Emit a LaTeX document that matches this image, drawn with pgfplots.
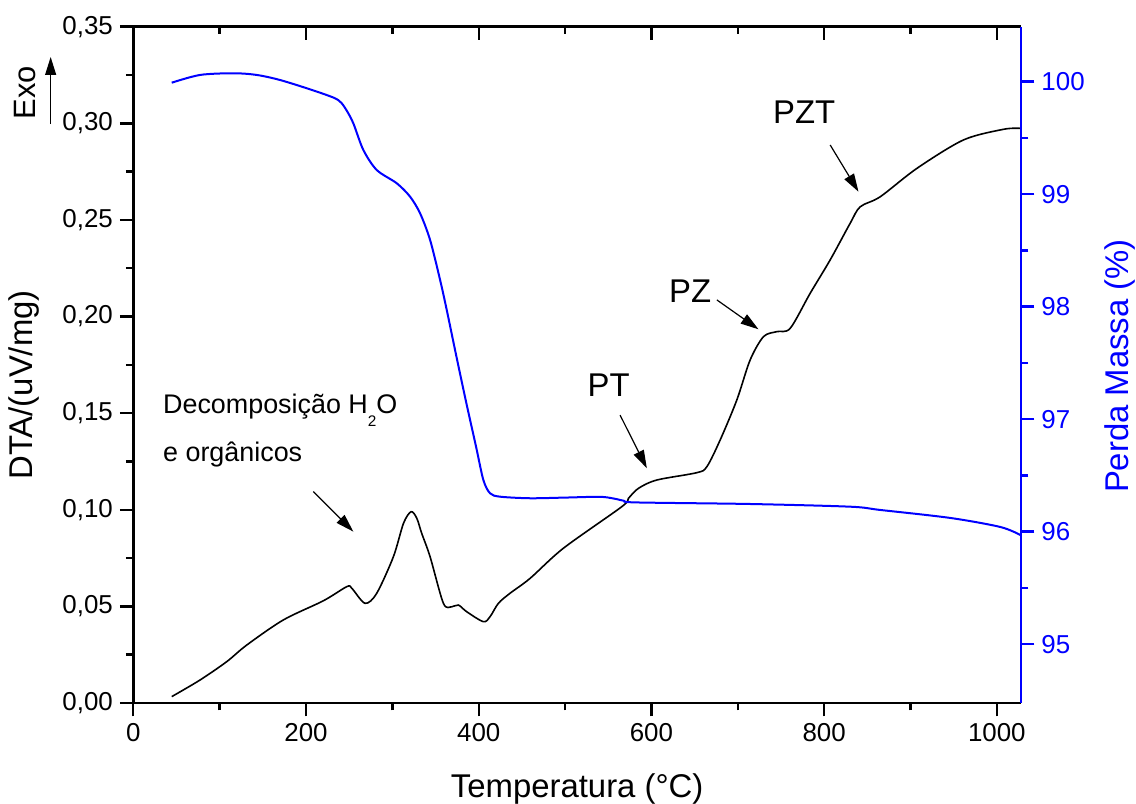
\documentclass[border=0pt]{standalone}
\usepackage{fontspec}
\setmainfont{Liberation Sans}
\usepackage{pgfplots}
\pgfplotsset{compat=1.18}
\usetikzlibrary{arrows.meta}
\definecolor{TGblue}{RGB}{0,0,255}

\pgfplotsset{
  common/.style={
    scale only axis, width=443.85bp, height=338.15bp,
    xmin=0, xmax=1028,
    /pgf/number format/assume math mode=true,
    /pgf/number format/1000 sep={},
    tick label style={font=\fontsize{13}{13}\selectfont},
    label style={font=\fontsize{16.5}{16.5}\selectfont},
    axis line style={line width=1.4bp,-},
    major tick length=6.7bp, minor tick length=3.7bp,
    every tick/.style={line width=1.2bp},
    clip=false,
  }
}

\begin{document}
\begin{tikzpicture}[>={Triangle[length=9bp,width=5.5bp]}]
\useasboundingbox (-66.65bp,-50.5bp) rectangle (501.35bp,351.5bp);

% top axis: inward ticks only
\begin{axis}[common,
  axis x line*=top, axis y line=none,
  ymin=0, ymax=0.35,
  xtick={0,200,...,1000}, minor x tick num=1, xticklabels={},
  tick align=inside]
\end{axis}

% DTA (left axis)
\begin{axis}[common,
  axis x line*=bottom, axis y line*=left,
  ymin=0, ymax=0.35,
  xtick={0,200,...,1000}, minor x tick num=1,
  ytick={0,0.05,...,0.351}, minor y tick num=1,
  scaled y ticks=false,
  yticklabel style={/pgf/number format/.cd, fixed, fixed zerofill, precision=2, use comma},
  tick align=outside,
  xlabel={Temperatura (°C)},
  xlabel style={at={(axis description cs:0.5,-0.139)}, anchor=base},
  ylabel={DTA/(uV/mg)},
  ylabel style={at={(axis description cs:-0.113,0.4702)}, anchor=base},
  ]
\addplot[black, line width=0.8bp, smooth] coordinates {
(44.5,0.0033)(77.3,0.0119)(108.2,0.0214)(131.4,0.0300)(173.8,0.0430)
(220.1,0.0529)(247.2,0.0602)(253.0,0.0594)(268.4,0.0516)(281.9,0.0568)
(301.2,0.0757)(312.9,0.0930)(321.7,0.0990)(328.3,0.0956)(334.0,0.0878)(343.7,0.0757)(359.1,0.0516)
(368.8,0.0498)(376.5,0.0507)(386.2,0.0472)(405.4,0.0421)(413.2,0.0447)
(422.8,0.0516)(436.3,0.0568)(459.5,0.0645)(498.1,0.0801)(565.7,0.1016)
(573.4,0.1059)(585.0,0.1111)(606.3,0.1154)(652.6,0.1192)(664.2,0.1223)
(679.6,0.1361)(698.9,0.1568)(714.3,0.1775)(729.8,0.1896)(745.3,0.1922)
(760.7,0.1939)(783.8,0.2120)(807.0,0.2293)(830.2,0.2483)(841.8,0.2568)
(865.0,0.2620)(907.5,0.2767)(961.4,0.2914)(1007.8,0.2969)(1027.1,0.2974)
};
% annotations
\node[anchor=base west, inner sep=0, font=\fontsize{13.5}{13.5}\selectfont]
  at (axis cs:34.1,0.1496) {Decomposição H\raisebox{-6.5bp}{\fontsize{7.7}{7.7}\selectfont 2}O};
\node[anchor=base west, inner sep=0, font=\fontsize{13.5}{13.5}\selectfont]
  at (axis cs:34.1,0.1251) {e orgânicos};
\draw[->, line width=0.6bp] (axis cs:208.5,0.1094) -- (axis cs:254.8,0.0887);
\node[anchor=base, inner sep=0, font=\fontsize{16.5}{16.5}\selectfont] at (axis cs:550.5,0.1585) {PT};
\draw[->, line width=0.6bp] (axis cs:563.7,0.1490) -- (axis cs:594.7,0.1215);
\node[anchor=base, inner sep=0, font=\fontsize{16.5}{16.5}\selectfont] at (axis cs:644.8,0.2073) {PZ};
\draw[->, line width=0.6bp] (axis cs:675.8,0.2086) -- (axis cs:724.0,0.1934);
\node[anchor=base, inner sep=0, font=\fontsize{16.5}{16.5}\selectfont] at (axis cs:776.9,0.3000) {PZT};
\draw[->, line width=0.6bp] (axis cs:807.0,0.2888) -- (axis cs:839.8,0.2646);
% Exo marker
\node[rotate=90, anchor=base, inner sep=0, font=\fontsize{15.5}{15.5}\selectfont] at (rel axis cs:-0.1107,0.9027) {Exo};
\draw[->, line width=0.6bp] (rel axis cs:-0.0931,0.8561) -- (rel axis cs:-0.0931,0.9552);
\end{axis}

% TG (right axis)
\begin{axis}[common,
  axis x line=none, axis y line*=right,
  ymin=94.477, ymax=100.489,
  ytick={95,96,...,100}, minor y tick num=1,
  tick align=outside,
  y axis line style={TGblue},
  ytick style={TGblue},
  yticklabel style={TGblue},
  ylabel={Perda Massa (\%)},
  ylabel style={TGblue, at={(axis description cs:1.1209,0.4983)}, anchor=base},
  ]
\addplot[TGblue, line width=1bp, smooth] coordinates {
(44.5,99.991)(77.3,100.060)(115.8,100.075)(142.9,100.060)(169.9,100.015)
(204.7,99.932)(232.0,99.858)(240.5,99.815)(247.0,99.745)(254.8,99.630)(266.4,99.393)
(281.9,99.215)(305.1,99.097)(320.5,98.978)(332.1,98.830)(343.7,98.593)
(355.3,98.237)(363.0,97.970)(373.8,97.571)(385.4,97.153)(397.0,96.753)
(405.4,96.459)(413.2,96.341)(424.8,96.311)(459.5,96.297)(500.0,96.303)
(540.0,96.310)(556.0,96.295)(568.0,96.275)(582.0,96.260)(714.3,96.246)(830.2,96.222)
(865.0,96.193)(946.1,96.122)(1003.9,96.042)(1027.1,95.971)
};
\end{axis}
\end{tikzpicture}
\end{document}
